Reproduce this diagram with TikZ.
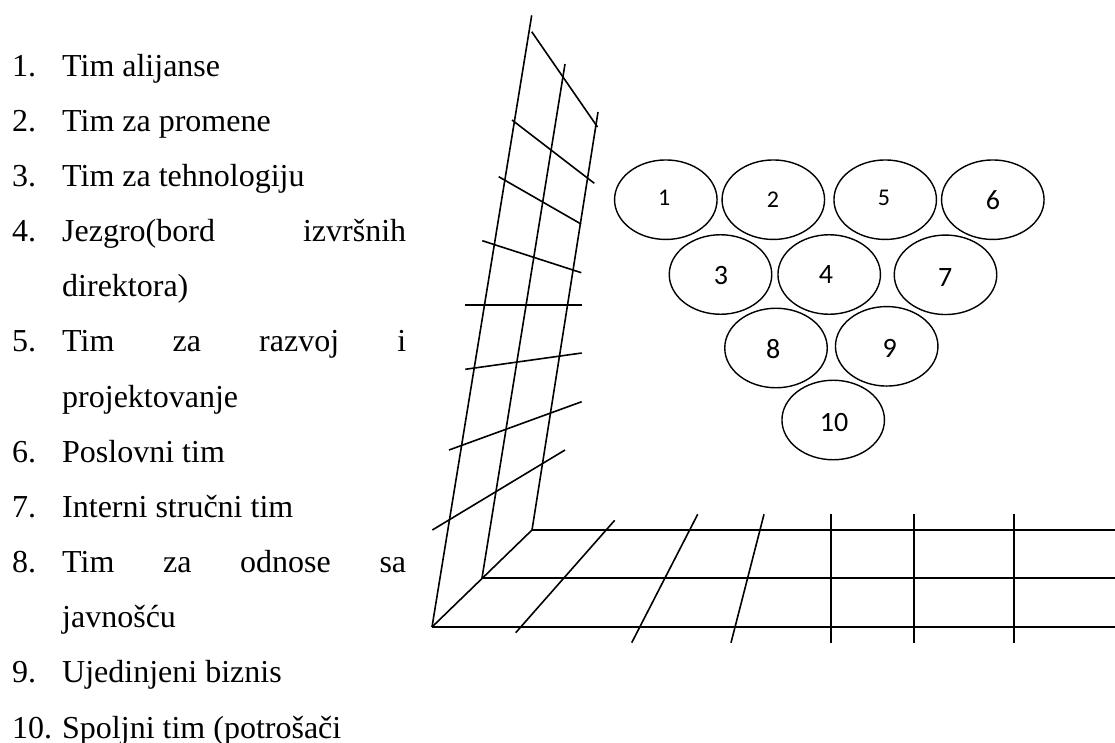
\documentclass[tikz,border=0pt]{standalone}
\usepackage{fontspec}
\setmainfont{Liberation Serif}
\newfontfamily\calfont{Carlito}
\usetikzlibrary{shapes.geometric}
\tikzset{
  grid line/.style={line width=1.6pt,black},
  team/.style={draw,line width=1.4pt,ellipse,minimum width=102.5pt,minimum height=79.5pt,inner sep=0pt},
  small num/.style={font=\calfont\fontsize{24}{24}\selectfont,inner sep=0pt},
  big num/.style={font=\calfont\fontsize{28}{28}\selectfont,inner sep=0pt},
  item/.style={font=\fontsize{32}{32}\selectfont,anchor=base west,inner sep=0pt}
}
\begin{document}
\begin{tikzpicture}[x=1pt,y=-1pt]
\useasboundingbox (0,0) rectangle (1115,742);
% list
\node[item] (n1) at (12,76) {1.};      \node[item] (t1) at (62,76) {Tim alijanse};
\node[item] (n2) at (12,131.2) {2.};   \node[item] (t2) at (62,131.2) {Tim za promene};
\node[item] (n3) at (12,186.4) {3.};   \node[item] (t3) at (62,186.4) {Tim za tehnologiju};
\node[item] (n4) at (12,241) {4.};     \node[item] (t4) at (62,241) {\makebox[344pt][s]{Jezgro(bord\hfill izvršnih}};
\node[item] (t4b) at (62,296.6) {direktora)};
\node[item] (n5) at (12,351.8) {5.};   \node[item] (t5) at (62,351.8) {\makebox[344pt][s]{Tim\hfill za\hfill razvoj\hfill i}};
\node[item] (t5b) at (62,407) {projektovanje};
\node[item] (n6) at (12,462.2) {6.};   \node[item] (t6) at (62,462.2) {Poslovni tim};
\node[item] (n7) at (12,517.6) {7.};   \node[item] (t7) at (62,517.6) {Interni stručni tim};
\node[item] (n8) at (12,572.6) {8.};   \node[item] (t8) at (62,572.6) {\makebox[344pt][s]{Tim\hfill za\hfill odnose\hfill sa}};
\node[item] (t8b) at (62,627.8) {javnošću};
\node[item] (n9) at (12,682.8) {9.};   \node[item] (t9) at (62,682.8) {Ujedinjeni biznis};
\node[item] (n10) at (12,738) {10.};   \node[item] (t10) at (62,738) {Spoljni tim (potrošači};
% key points of the grid
\coordinate (A) at (432,627);
\coordinate (B) at (482,578);
\coordinate (C) at (532,530);
\coordinate (E) at (1115,530);
\coordinate (F) at (1115,578);
\coordinate (G) at (1115,627);
% wall
\draw[grid line] (A) -- (531.7,15.3);
\draw[grid line] (B) -- (565,64);
\draw[grid line] (C) -- (598,112);
\draw[grid line] (531.7,31.7) -- (597.5,127);
\draw[grid line] (512,120) -- (594.3,183.3);
\draw[grid line] (498.7,176.7) -- (581,224);
\draw[grid line] (482.3,240.7) -- (581.3,272.7);
\draw[grid line] (465.3,305) -- (581.7,305);
\draw[grid line] (465.3,369.3) -- (581.7,353);
\draw[grid line] (449,450) -- (581.7,401.7);
\draw[grid line] (432.3,530) -- (565,450);
% floor
\draw[grid line] (A) -- (C);
\draw[grid line] (C) -- (E);
\draw[grid line] (B) -- (F);
\draw[grid line] (A) -- (G);
\draw[grid line] (614.7,520.3) -- (515.7,632.7);
\draw[grid line] (697.7,514.3) -- (631.7,642.7);
\draw[grid line] (764,514.3) -- (731,642.7);
\draw[grid line] (831,514.3) -- (831,642.7);
\draw[grid line] (914,514.3) -- (914,642.7);
\draw[grid line] (1013.7,514.3) -- (1013.7,642.7);
% teams
\node[team] (e1) at (665.8,199.7) {};
\node[team] (e2) at (773.3,199.7) {};
\node[team] (e5) at (885.2,199.7) {};
\node[team] (e6) at (992.8,199.7) {};
\node[team] (e3) at (720.5,274.5) {};
\node[team] (e4) at (829.2,274.5) {};
\node[team] (e7) at (945.5,274.8) {};
\node[team] (e8) at (776,348) {};
\node[team] (e9) at (886.7,346.3) {};
\node[team] (e10) at (833.2,420) {};
\node[small num] (l1) at (664.3,197.7) {1};
\node[small num] (l2) at (773,200) {2};
\node[small num] (l5) at (884,197.7) {5};
\node[big num] (l6) at (993,200) {6};
\node[big num] (l3) at (721,276) {3};
\node[big num] (l4) at (826,275) {4};
\node[big num] (l7) at (945.3,277.7) {7};
\node[big num] (l8) at (773.3,349) {8};
\node[big num] (l9) at (889.7,348.3) {9};
\node[big num] (l10) at (834,423) {10};
\end{tikzpicture}
\end{document}
